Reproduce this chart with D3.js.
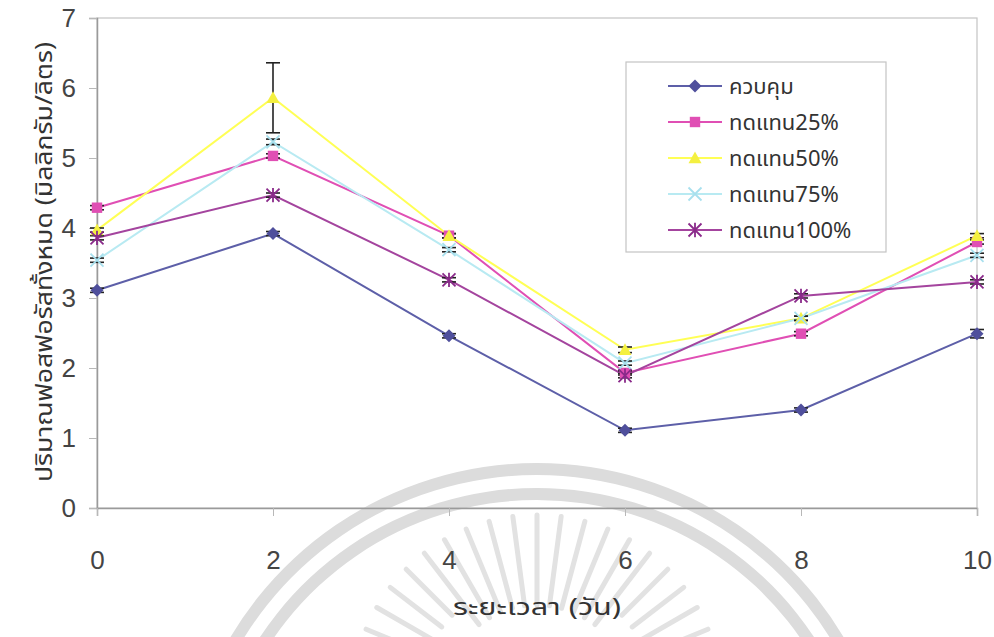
<!DOCTYPE html>
<html>
<head>
<meta charset="utf-8">
<script src="https://cdn.jsdelivr.net/npm/d3@7"></script>
<style>
  body { margin: 0; background: #fff; }
  svg { font-family: "Liberation Sans Narrow", "Liberation Sans", Arial, sans-serif; }
  .thai { font-family: "Noto Sans Thai", "Tahoma", "Loma", "Garuda", "Liberation Sans", sans-serif; }
</style>
</head>
<body>
<svg id="chart" width="994" height="637"></svg>
<script>
// days on the x axis
var days = [0, 2, 4, 6, 8, 10];
var xTicks = [0, 2, 4, 6, 8, 10];
var yTicks = [0, 1, 2, 3, 4, 5, 6, 7];

// series names
var names = ["ควบคุม", "ทดแทน25%", "ทดแทน50%", "ทดแทน75%", "ทดแทน100%"];

// values per series (mg/l)
var control = [3.11, 3.92, 2.46, 1.11, 1.40, 2.49];
var rep25 = [4.29, 5.03, 3.89, 1.93, 2.49, 3.80];
var rep50 = [3.97, 5.86, 3.89, 2.26, 2.71, 3.89];
var rep75 = [3.54, 5.23, 3.69, 2.07, 2.71, 3.61];
var rep100 = [3.86, 4.47, 3.26, 1.89, 3.03, 3.23];

// error bar half-widths
var errControl = [0.03, 0.03, 0.03, 0.03, 0.03, 0.06];
var err25 = [0.03, 0.03, 0.03, 0.03, 0.03, 0.03];
var err50 = [0.03, 0.50, 0.03, 0.04, 0.03, 0.03];
var err75 = [0.03, 0.04, 0.03, 0.03, 0.03, 0.03];
var err100 = [0.03, 0.03, 0.03, 0.03, 0.03, 0.03];

var xTitle = "ระยะเวลา (วัน)";
var yTitle = "ปริมาณฟอสฟอรัสทั้งหมด (มิลลิกรัม/ลิตร)";

var seriesValues = [control, rep25, rep50, rep75, rep100];
var seriesErrors = [errControl, err25, err50, err75, err100];
var lineColors = ["#5d5fa8", "#e04fb4", "#ffff55", "#b8eaf2", "#a4449e"];
var markColors = ["#4f4f9c", "#e04fb4", "#f4f040", "#a8e0ee", "#8a2a8a"];
var markTypes = ["diamond", "square", "triangle", "x", "star"];

var svg = d3.select("#chart");

// faint watermark behind the chart
var wm = svg.append("g");
var arc = d3.arc();
[[345, 357], [320, 332]].forEach(function(r) {
    wm.append("path")
        .attr("transform", "translate(537,820)")
        .attr("fill", "#dcdcdc")
        .attr("d", arc({innerRadius: r[0], outerRadius: r[1], startAngle: -1.2, endAngle: 1.2}));
});
d3.range(-75, 76, 7.5).forEach(function(a) {
    var t = (a - 90) * Math.PI / 180;
    var r0 = Math.abs(a) > 40 ? 120 : 95;
    wm.append("line")
        .attr("x1", 537 + r0 * Math.cos(t)).attr("y1", 700 + r0 * Math.sin(t))
        .attr("x2", 537 + 185 * Math.cos(t)).attr("y2", 700 + 185 * Math.sin(t))
        .attr("stroke", "#e2e2e2").attr("stroke-width", 5).attr("stroke-linecap", "round");
});

var x = d3.scaleLinear().domain([0, 10]).range([97, 977]);
var y = d3.scaleLinear().domain([0, 7]).range([508, 18]);

// plot frame
svg.append("rect")
    .attr("x", x(0)).attr("y", y(7))
    .attr("width", x(10) - x(0)).attr("height", y(0) - y(7))
    .attr("fill", "none").attr("stroke", "#c4c4c4").attr("stroke-width", 1.2);

// y axis
var yAxis = svg.append("g")
    .attr("transform", "translate(" + x(0) + ",0)")
    .call(d3.axisLeft(y).tickValues(yTicks).tickSize(8).tickPadding(13).tickFormat(d3.format("d")));
yAxis.select(".domain").attr("stroke", "#9a9a9a").attr("stroke-width", 1.5);
yAxis.selectAll(".tick line").attr("stroke", "#b8b8b8");
yAxis.selectAll("text").attr("font-size", 26).attr("fill", "#444");

// x axis
var xAxis = svg.append("g")
    .attr("transform", "translate(0," + y(0) + ")")
    .call(d3.axisBottom(x).tickValues(xTicks).tickSize(8).tickPadding(35).tickFormat(d3.format("d")));
xAxis.select(".domain").attr("stroke", "#9a9a9a").attr("stroke-width", 1.5);
xAxis.selectAll(".tick line").attr("stroke", "#b8b8b8");
xAxis.selectAll("text").attr("font-size", 26).attr("fill", "#444");

// axis titles
svg.append("text").attr("class", "thai")
    .attr("x", 537).attr("y", 615)
    .attr("text-anchor", "middle").attr("font-size", 23).attr("fill", "#333")
    .attr("textLength", 168).attr("lengthAdjust", "spacingAndGlyphs")
    .text(xTitle);
svg.append("text").attr("class", "thai")
    .attr("transform", "translate(52,262) rotate(-90)")
    .attr("text-anchor", "middle").attr("font-size", 23).attr("fill", "#333")
    .attr("textLength", 440).attr("lengthAdjust", "spacingAndGlyphs")
    .text(yTitle);

function drawMarker(g, type, color, size) {
    var s = size;
    if (type === "diamond") {
        g.append("path").attr("d", "M0," + (-s) + "L" + s + ",0L0," + s + "L" + (-s) + ",0Z").attr("fill", color);
    } else if (type === "square") {
        g.append("rect").attr("x", -s * 0.8).attr("y", -s * 0.8).attr("width", s * 1.6).attr("height", s * 1.6).attr("fill", color);
    } else if (type === "triangle") {
        g.append("path").attr("d", "M0," + (-s) + "L" + s + "," + (s * 0.8) + "L" + (-s) + "," + (s * 0.8) + "Z").attr("fill", color);
    } else if (type === "x") {
        g.append("path").attr("d", "M" + (-s) + "," + (-s) + "L" + s + "," + s + "M" + (-s) + "," + s + "L" + s + "," + (-s))
            .attr("stroke", color).attr("stroke-width", 1.8);
    } else {
        g.append("path").attr("d", "M" + (-s) + "," + (-s) + "L" + s + "," + s + "M" + (-s) + "," + s + "L" + s + "," + (-s) + "M0," + (-s * 1.1) + "L0," + (s * 1.1))
            .attr("stroke", color).attr("stroke-width", 1.8);
    }
}

var line = d3.line()
    .x(function(d, i) { return x(days[i]); })
    .y(function(d) { return y(d); });

seriesValues.forEach(function(vals, k) {
    svg.append("path")
        .datum(vals)
        .attr("fill", "none")
        .attr("stroke", lineColors[k])
        .attr("stroke-width", 2)
        .attr("d", line);
});

// error bars
seriesValues.forEach(function(vals, k) {
    var errs = seriesErrors[k];
    vals.forEach(function(v, i) {
        var cx = x(days[i]);
        var g = svg.append("g").attr("stroke", "#222").attr("stroke-width", 1.6);
        g.append("line").attr("x1", cx).attr("x2", cx).attr("y1", y(v + errs[i])).attr("y2", y(v - errs[i]));
        g.append("line").attr("x1", cx - 7).attr("x2", cx + 7).attr("y1", y(v + errs[i])).attr("y2", y(v + errs[i]));
        g.append("line").attr("x1", cx - 7).attr("x2", cx + 7).attr("y1", y(v - errs[i])).attr("y2", y(v - errs[i]));
    });
});

// markers
seriesValues.forEach(function(vals, k) {
    vals.forEach(function(v, i) {
        var g = svg.append("g").attr("transform", "translate(" + x(days[i]) + "," + y(v) + ")");
        drawMarker(g, markTypes[k], markColors[k], 6.5);
    });
});

// legend
var legend = svg.append("g").attr("transform", "translate(626,62)");
legend.append("rect").attr("width", 260).attr("height", 190)
    .attr("fill", "#fff").attr("stroke", "#c4c4c4").attr("stroke-width", 1.2);
names.forEach(function(n, k) {
    var row = legend.append("g").attr("transform", "translate(0," + (24 + k * 36) + ")");
    row.append("line").attr("x1", 42).attr("x2", 96).attr("y1", 0).attr("y2", 0)
        .attr("stroke", lineColors[k]).attr("stroke-width", 2);
    drawMarker(row.append("g").attr("transform", "translate(69,0)"), markTypes[k], markColors[k], 6.5);
    row.append("text").attr("class", "thai")
        .attr("x", 103).attr("y", 8)
        .attr("font-size", 22).attr("fill", "#333")
        .text(n);
});
</script>
</body>
</html>
